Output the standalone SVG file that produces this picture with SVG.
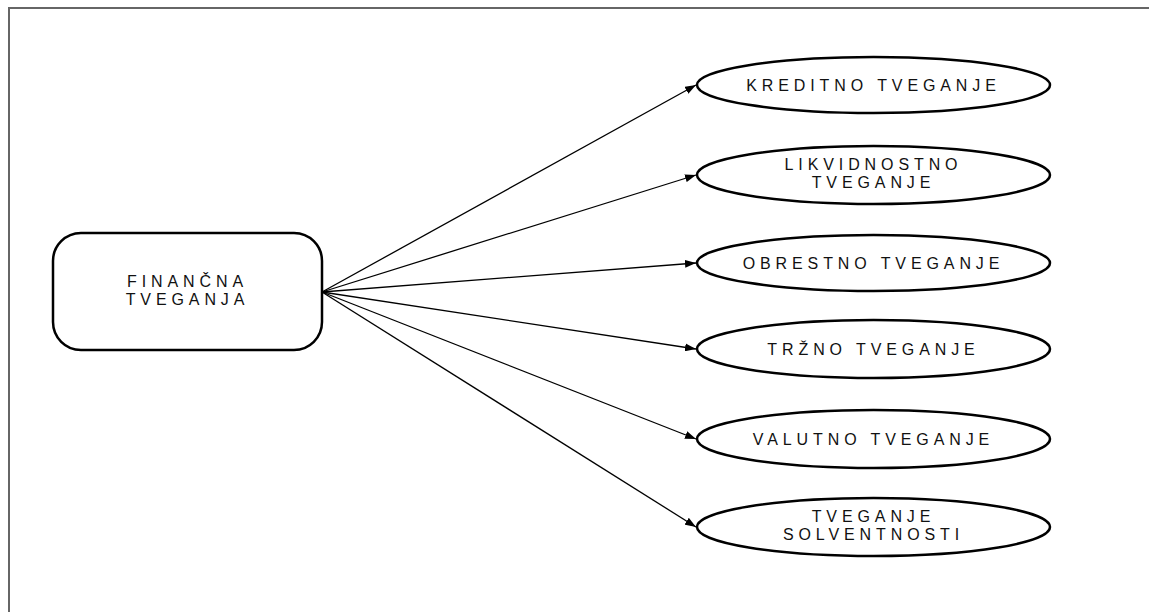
<svg xmlns="http://www.w3.org/2000/svg" width="1149" height="612" viewBox="0 0 1149 612">
  <style>
    .lbl { font-family: "Liberation Sans", Arial, sans-serif; font-size: 16px; letter-spacing: 4.9px; fill: #111; text-anchor: middle; }
    .node { fill: #fff; stroke: #000; stroke-width: 2.5; }
    .edge { stroke: #000; stroke-width: 1.3; fill: none; marker-end: url(#arr); }
  </style>
  <defs>
    <marker id="arr" markerUnits="userSpaceOnUse" markerWidth="12" markerHeight="8" refX="11" refY="4" orient="auto">
      <path d="M0,0 L11,4 L0,8 z" fill="#000"/>
    </marker>
  </defs>
  <rect x="0" y="0" width="1149" height="612" fill="#fff"/>
  <g id="frame">
    <line x1="8" y1="8" x2="1149" y2="8" stroke="#333" stroke-width="1.6"/>
    <line x1="9" y1="8" x2="9" y2="612" stroke="#666" stroke-width="2"/>
  </g>
  <g id="connectors">
    <line class="edge" x1="322" y1="292" x2="696" y2="85"/>
    <line class="edge" x1="322" y1="292" x2="696" y2="175"/>
    <line class="edge" x1="322" y1="292" x2="696" y2="263"/>
    <line class="edge" x1="322" y1="292" x2="696" y2="349"/>
    <line class="edge" x1="322" y1="292" x2="696" y2="439"/>
    <line class="edge" x1="322" y1="292" x2="696" y2="527"/>
  </g>
  <g id="financna">
    <rect class="node" x="53" y="233" width="269" height="117" rx="28" ry="28"/>
    <text class="lbl" x="187.5" y="287">FINANČNA</text>
    <text class="lbl" x="187.5" y="305">TVEGANJA</text>
  </g>
  <g id="kreditno">
    <ellipse class="node" cx="873.5" cy="85" rx="176.5" ry="28"/>
    <text class="lbl" x="873.5" y="90.5">KREDITNO TVEGANJE</text>
  </g>
  <g id="likvidnostno">
    <ellipse class="node" cx="873.5" cy="175" rx="176.5" ry="29"/>
    <text class="lbl" x="873.5" y="169.5">LIKVIDNOSTNO</text>
    <text class="lbl" x="873.5" y="187.5">TVEGANJE</text>
  </g>
  <g id="obrestno">
    <ellipse class="node" cx="873.5" cy="263" rx="176.5" ry="28"/>
    <text class="lbl" x="873.5" y="268.5">OBRESTNO TVEGANJE</text>
  </g>
  <g id="trzno">
    <ellipse class="node" cx="873.5" cy="349" rx="176.5" ry="29"/>
    <text class="lbl" x="873.5" y="354.5">TRŽNO TVEGANJE</text>
  </g>
  <g id="valutno">
    <ellipse class="node" cx="873.5" cy="439" rx="176.5" ry="29"/>
    <text class="lbl" x="873.5" y="444.5">VALUTNO TVEGANJE</text>
  </g>
  <g id="solventnost">
    <ellipse class="node" cx="873.5" cy="527" rx="176.5" ry="29"/>
    <text class="lbl" x="873.5" y="521.5">TVEGANJE</text>
    <text class="lbl" x="873.5" y="539.5">SOLVENTNOSTI</text>
  </g>
</svg>
